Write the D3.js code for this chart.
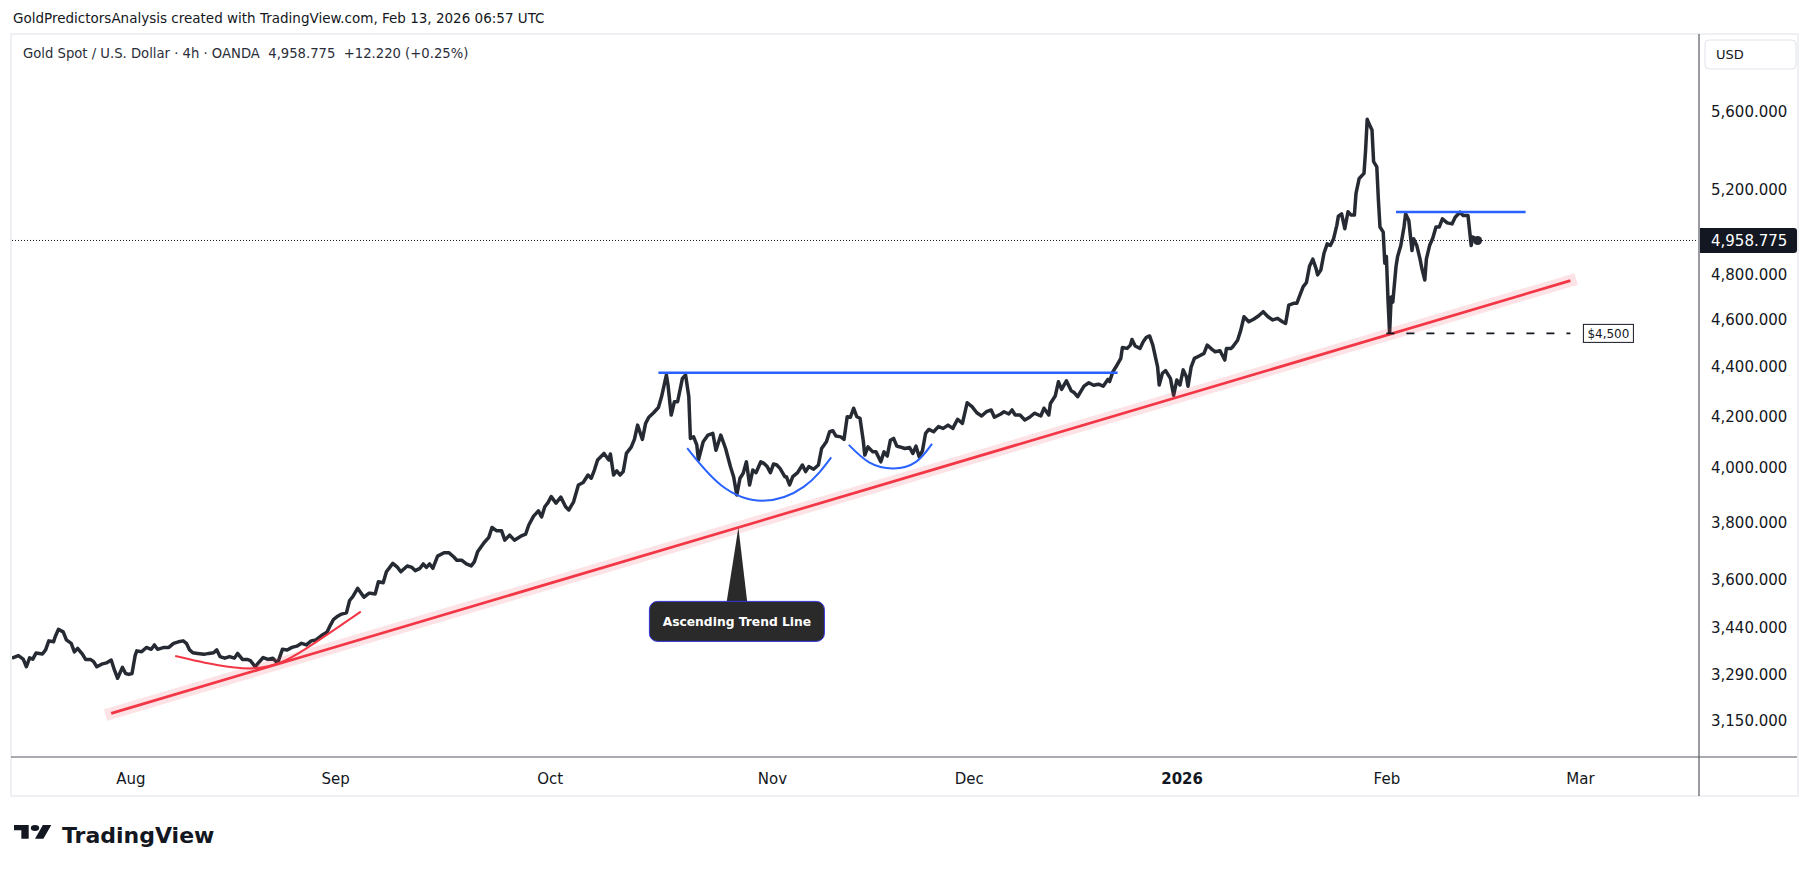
<!DOCTYPE html>
<html>
<head>
<meta charset="utf-8">
<script src="https://cdn.jsdelivr.net/npm/d3@7"></script>
<style>
  body { margin: 0; background: #fff; }
  svg text { font-family: "DejaVu Sans", sans-serif; fill: #131722; }
</style>
</head>
<body>
<svg id="chart"></svg>
<script>
// Gold spot 4h closes. x unit = 4h bar counted from the left edge
const bars = [
  0, 4, 7, 9, 11, 13, 15, 19, 21, 23,
  26, 27, 29, 32, 34, 37, 39, 41, 44, 46,
  49, 51, 53, 56, 59, 62, 64, 66, 69, 71,
  73, 75, 77, 78, 81, 84, 87, 89, 91, 95,
  98, 101, 104, 107, 109, 111, 113, 116, 120, 123,
  126, 128, 130, 133, 136, 139, 141, 144, 147, 149,
  152, 154, 157, 160, 163, 166, 169, 172, 175, 178,
  181, 184, 187, 190, 194, 197, 199, 201, 203, 206,
  209, 211, 213, 216, 220, 223,
  224, 227, 229, 232, 234, 238, 241, 243, 247, 250,
  252, 255, 257, 259, 261, 263, 266, 270, 273, 276,
  278, 281, 284, 287, 289, 291, 295, 298, 300, 303,
  306, 308, 311, 314, 318, 321, 323, 326, 329, 331,
  333, 335, 337, 340, 343, 346, 348, 351, 354, 357,
  360, 362, 364, 366, 370, 373, 374, 376, 378, 380,
  382, 384, 387, 389, 391, 394, 396, 398, 401, 404,
  406, 409, 410, 412, 414, 416, 419, 421, 423, 424,
  426, 428, 429, 432, 435, 438, 440, 443,
  446, 449, 451, 453, 455, 457, 459, 461, 463, 465,
  468, 470, 472, 474, 476, 478, 480, 483, 484, 486,
  488, 491, 494, 496, 498, 501, 504, 506, 509, 511,
  513, 515, 518, 520, 522, 524, 526, 528, 530, 532,
  533, 535, 538, 540, 543, 545, 547, 549, 551, 553,
  555, 558, 561, 563, 565, 567, 569, 571, 573, 576,
  579, 582, 585, 588, 591, 594, 597, 600, 603, 606,
  609, 612, 614, 618, 620, 623, 625, 627, 630, 633,
  636, 639, 643, 645, 648, 649, 652, 654, 656, 659,
  662, 664, 666, 670, 673, 676, 679, 682, 685,
  686, 688, 690, 693, 694, 697, 699, 700, 702, 705,
  707, 709, 711, 713, 716, 717, 719, 721, 724, 726,
  728, 730, 732, 734, 735, 737, 739, 742, 745, 747,
  750, 752, 755, 758, 759, 762, 763, 766, 768, 770,
  773, 776, 779, 782, 785, 788, 791, 794, 796, 798,
  801, 803, 805, 807, 809, 811, 813, 815, 816, 818,
  820, 822, 824, 826, 828, 829, 831, 833, 835, 837,
  839, 840, 842, 845, 846, 847, 848, 850, 851, 853,
  854, 855, 857, 858, 859, 860, 861, 862, 863, 865,
  866, 868, 870, 871, 873, 875, 876, 878, 880, 881,
  883, 884, 886, 888, 890, 892, 894, 897, 900, 902,
  905, 907, 910, 912, 913, 916
];
const closes = [
  3342, 3350, 3339, 3315, 3343, 3339, 3358, 3355, 3368, 3397,
  3394, 3410, 3434, 3426, 3400, 3389, 3362, 3373, 3355, 3338,
  3338, 3331, 3315, 3323, 3327, 3336, 3305, 3279, 3313, 3294,
  3291, 3294, 3351, 3365, 3362, 3376, 3370, 3384, 3370, 3376,
  3376, 3389, 3394, 3397, 3389, 3368, 3359, 3357, 3354, 3357,
  3359, 3368, 3347, 3342, 3347, 3342, 3357, 3338, 3338, 3334,
  3315, 3327, 3344, 3338, 3342, 3326, 3370, 3368, 3376, 3380,
  3389, 3384, 3397, 3400, 3416, 3426, 3448, 3467, 3475, 3484,
  3488, 3529, 3542, 3570, 3540, 3553,
  3553, 3551, 3592, 3589, 3626, 3655, 3641, 3626, 3646, 3641,
  3630, 3638, 3653, 3641, 3653, 3638, 3680, 3692, 3692, 3678,
  3666, 3666, 3653, 3646, 3661, 3695, 3727, 3746, 3781, 3769,
  3769, 3736, 3754, 3736, 3750, 3757, 3790, 3822, 3841, 3819,
  3856, 3871, 3893, 3869, 3891, 3856, 3844, 3874, 3936, 3945,
  3973, 3961, 3992, 4030, 4055, 4030, 4053, 3973, 3989, 3973,
  3986, 4055, 4079, 4109, 4165, 4109, 4172, 4196, 4214, 4235,
  4279, 4367, 4326, 4205, 4258, 4258, 4353, 4367, 4279, 4113,
  4119, 4088, 4030, 4100, 4126, 4133, 4067, 4126,
  4074, 4005, 3967, 3899, 3961, 3980, 4023, 3936, 3992, 3982,
  4023, 4017, 4005, 3982, 4015, 4011, 3998, 3967, 3967, 3936,
  3967, 3982, 4011, 3986, 4005, 3995, 4011, 4074, 4100, 4139,
  4143, 4122, 4119, 4109, 4198, 4196, 4232, 4198, 4192, 4106,
  4049, 4080, 4061, 4061, 4023, 4061, 4045, 4106, 4113, 4083,
  4080, 4074, 4078, 4055, 4083, 4042, 4065, 4133, 4148, 4139,
  4159, 4152, 4165, 4152, 4188, 4172, 4254, 4238, 4214, 4201,
  4218, 4225, 4196, 4209, 4218, 4209, 4225, 4205, 4205, 4185,
  4196, 4212, 4201, 4232, 4205, 4251, 4281, 4339, 4308, 4343,
  4302, 4294, 4278, 4321, 4335, 4325, 4329, 4321, 4349,
  4340, 4380, 4401, 4436, 4482, 4478, 4492, 4516, 4488, 4478,
  4506, 4525, 4531, 4492, 4401, 4326, 4374, 4385, 4353, 4284,
  4346, 4326, 4388, 4360, 4321, 4401, 4436, 4446, 4457, 4492,
  4474, 4464, 4468, 4429, 4478, 4478, 4485, 4513, 4556, 4614,
  4592, 4603, 4617, 4636, 4614, 4600, 4607, 4592, 4585, 4665,
  4673, 4673, 4710, 4747, 4765, 4841, 4872, 4830, 4800, 4822,
  4899, 4943, 4935, 4967, 5030, 5074, 5085, 5014, 5095, 5079,
  5079, 5184, 5258, 5283, 5400, 5560, 5539, 5504, 5342, 5316,
  5152, 5022, 4998, 4853, 4884, 4688, 4542, 4701, 4678, 4837,
  4884, 4935, 5022, 5085, 5053, 4912, 4967, 4935, 4873, 4835,
  4777, 4873, 4935, 4970, 5022, 5022, 5061, 5042, 5037, 5069,
  5093, 5077, 5077, 4935, 4975, 4958.775
];

// axis ticks
const monthLabels = ["Aug", "Sep", "Oct", "Nov", "Dec", "2026", "Feb", "Mar"];
const monthBars = [74, 202, 336, 475, 598, 731, 859, 980];
const priceTicks = [3150, 3290, 3440, 3600, 3800, 4000, 4200, 4400, 4600, 4800, 5200, 5600];
const lastPrice = 4958.775;

// drawings: [bar, price] anchors
const trendLine = [[62, 3172], [974, 4774]];
const redArc = [[102, 3349], [151, 3310], [184, 3373], [218, 3492]];
const resistanceOct = [[404, 4376], [691, 4376]];
const blueArcNov = [[422, 4075], [443, 3936], [469, 3878], [495, 3930], [512, 4040]];
const blueArcDec = [[523, 4088], [536, 4020], [551, 3998], [565, 4023], [575, 4092]];
const resistanceFeb = [[865, 5094], [946, 5094]];
const supportLine = [[859, 4542], [974, 4542]];
const supportLabel = "$4,500";
const calloutBar = 454;
const calloutText = "Ascending Trend Line";

const W = 1814, H = 872;
const plot = { left: 12, right: 1698, top: 35, bottom: 757 };

const svg = d3.select("#chart")
  .attr("width", W)
  .attr("height", H);

const x = d3.scaleLinear().domain([0, 1053.75]).range([plot.left, plot.right]);
const y = d3.scaleLog().domain([3044, 6021]).range([plot.bottom, plot.top]);

// outer frame
svg.append("rect")
  .attr("x", 11).attr("y", 34)
  .attr("width", 1787).attr("height", 762)
  .attr("fill", "none")
  .attr("stroke", "#eef0f3")
  .attr("stroke-width", 2);

// header texts
svg.append("text")
  .attr("x", 13).attr("y", 23)
  .style("font-size", "13.5px")
  .text("GoldPredictorsAnalysis created with TradingView.com, Feb 13, 2026 06:57 UTC");

svg.append("text")
  .attr("x", 23).attr("y", 58)
  .style("font-size", "13.2px")
  .style("fill", "#2a2e39")
  .attr("xml:space", "preserve")
  .text("Gold Spot / U.S. Dollar \u00b7 4h \u00b7 OANDA  4,958.775  +12.220 (+0.25%)");

svg.append("defs").append("clipPath").attr("id", "plotClip")
  .append("rect")
  .attr("x", plot.left).attr("y", plot.top)
  .attr("width", plot.right - plot.left).attr("height", plot.bottom - plot.top);

const g = svg.append("g").attr("clip-path", "url(#plotClip)");

// current price dotted line
g.append("line")
  .attr("x1", plot.left).attr("x2", plot.right)
  .attr("y1", y(lastPrice)).attr("y2", y(lastPrice))
  .attr("stroke", "#131722")
  .attr("stroke-dasharray", "1,2");

// price series
const priceLine = d3.line()
  .x(i => x(bars[i]))
  .y(i => y(closes[i]));

g.append("path")
  .attr("d", priceLine(d3.range(bars.length)))
  .attr("fill", "none")
  .attr("stroke", "#262a33")
  .attr("stroke-width", 3.5)
  .attr("stroke-linejoin", "round");

g.append("circle")
  .attr("cx", x(bars[bars.length - 1]))
  .attr("cy", y(closes[closes.length - 1]))
  .attr("r", 4.5)
  .attr("fill", "#262a33");

const pt = d => [x(d[0]), y(d[1])];

// ascending trend line with soft band
const tl = trendLine.map(pt);
g.append("line")
  .attr("x1", tl[0][0]).attr("y1", tl[0][1]).attr("x2", tl[1][0]).attr("y2", tl[1][1])
  .attr("stroke", "rgba(242,54,69,0.14)")
  .attr("stroke-width", 12)
  .attr("stroke-linecap", "square");
g.append("line")
  .attr("x1", tl[0][0]).attr("y1", tl[0][1]).attr("x2", tl[1][0]).attr("y2", tl[1][1])
  .attr("stroke", "#f23645")
  .attr("stroke-width", 2.7);

const curve = d3.line().x(d => x(d[0])).y(d => y(d[1])).curve(d3.curveNatural);

g.append("path")
  .attr("d", curve(redArc))
  .attr("fill", "none")
  .attr("stroke", "#f23645")
  .attr("stroke-width", 2);

[blueArcNov, blueArcDec].forEach(arc => {
  g.append("path")
    .attr("d", curve(arc))
    .attr("fill", "none")
    .attr("stroke", "#2962ff")
    .attr("stroke-width", 2);
});

[resistanceOct, resistanceFeb].forEach(seg => {
  const p = seg.map(pt);
  g.append("line")
    .attr("x1", p[0][0]).attr("y1", p[0][1]).attr("x2", p[1][0]).attr("y2", p[1][1])
    .attr("stroke", "#2962ff")
    .attr("stroke-width", 2.5);
});

// $4,500 dashed level
const sp = supportLine.map(pt);
g.append("line")
  .attr("x1", sp[0][0]).attr("y1", sp[0][1]).attr("x2", sp[1][0]).attr("y2", sp[1][1])
  .attr("stroke", "#131722")
  .attr("stroke-width", 1.6)
  .attr("stroke-dasharray", "8,12");

const lab = svg.append("g").attr("transform", `translate(${sp[1][0] + 13},${sp[1][1]})`);
lab.append("rect")
  .attr("x", 0).attr("y", -9)
  .attr("width", 50).attr("height", 18)
  .attr("fill", "#fff")
  .attr("stroke", "#131722");
lab.append("text")
  .attr("x", 25).attr("dy", "0.35em")
  .attr("text-anchor", "middle")
  .style("font-size", "12px")
  .text(supportLabel);

// callout pointing at the trend line
const tipX = x(calloutBar);
const tipY = tl[0][1] + (tipX - tl[0][0]) / (tl[1][0] - tl[0][0]) * (tl[1][1] - tl[0][1]);
const boxTop = tipY + 74;
const callout = svg.append("g");
callout.append("path")
  .attr("d", `M${tipX},${tipY} L${tipX - 12},${boxTop + 2} L${tipX + 9},${boxTop + 2} Z`)
  .attr("fill", "#2a2a2a");
callout.append("rect")
  .attr("x", tipX - 89).attr("y", boxTop)
  .attr("width", 175).attr("height", 40)
  .attr("rx", 8)
  .attr("fill", "#2a2a2a")
  .attr("stroke", "#3535e0");
callout.append("text")
  .attr("x", tipX - 1.5).attr("y", boxTop + 20)
  .attr("dy", "0.35em")
  .attr("text-anchor", "middle")
  .style("font-size", "12.3px")
  .style("font-weight", "bold")
  .style("fill", "#fff")
  .text(calloutText);

// axes frame lines
svg.append("line")
  .attr("x1", 11).attr("x2", 1797)
  .attr("y1", plot.bottom).attr("y2", plot.bottom)
  .attr("stroke", "#555962").attr("stroke-width", 1.2);
svg.append("line")
  .attr("x1", plot.right + 1).attr("x2", plot.right + 1)
  .attr("y1", 34).attr("y2", 796)
  .attr("stroke", "#555962").attr("stroke-width", 1.2);

// price scale
const yAxis = svg.append("g")
  .attr("transform", `translate(${plot.right + 1},0)`)
  .call(d3.axisRight(y).tickValues(priceTicks).tickFormat(d3.format(",.3f")).tickSize(0).tickPadding(12));
yAxis.select(".domain").remove();
yAxis.selectAll("text").style("font-size", "15px").style("fill", "#131722");

// time scale
const xAxis = svg.append("g")
  .attr("transform", `translate(0,${plot.bottom})`)
  .call(d3.axisBottom(x).tickValues(monthBars).tickFormat((d, i) => monthLabels[i]).tickSize(0).tickPadding(16));
xAxis.select(".domain").remove();
xAxis.selectAll("text")
  .style("font-size", "15px")
  .style("fill", "#131722")
  .style("font-weight", (d, i) => monthLabels[i] === "2026" ? "bold" : "normal");

// last price tag
const tagY = y(lastPrice);
svg.append("path")
  .attr("d", `M${plot.right + 2},${tagY - 12.5} H1794 Q1797,${tagY - 12.5} 1797,${tagY - 9.5} V${tagY + 9.5} Q1797,${tagY + 12.5} 1794,${tagY + 12.5} H${plot.right + 2} Z`)
  .attr("fill", "#131722");
svg.append("text")
  .attr("x", plot.right + 13).attr("y", tagY)
  .attr("dy", "0.35em")
  .style("font-size", "15px")
  .style("fill", "#fff")
  .text(d3.format(",.3f")(lastPrice));

// currency box
svg.append("rect")
  .attr("x", 1705).attr("y", 40)
  .attr("width", 91).attr("height", 29)
  .attr("rx", 4)
  .attr("fill", "#fff")
  .attr("stroke", "#e0e3eb");
svg.append("text")
  .attr("x", 1716).attr("y", 54.5)
  .attr("dy", "0.35em")
  .style("font-size", "13px")
  .text("USD");

// TradingView logo
const logo = svg.append("g").attr("transform", "translate(14,822) scale(1.05,0.76)");
logo.append("path")
  .attr("d", "M14 22H7V11H0V4h14v18zM28 22h-8l7.5-18h8L28 22z")
  .attr("fill", "#131722");
logo.append("circle").attr("cx", 20).attr("cy", 8).attr("r", 4).attr("fill", "#131722");
svg.append("text")
  .attr("x", 62).attr("y", 843)
  .style("font-size", "22px")
  .style("font-weight", "bold")
  .text("TradingView");
</script>
</body>
</html>
